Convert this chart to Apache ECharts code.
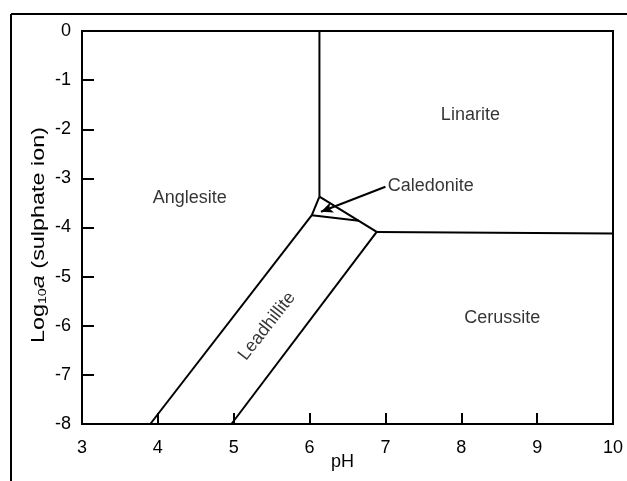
<!DOCTYPE html>
<html>
<head>
<meta charset="utf-8">
<script src="https://cdn.jsdelivr.net/npm/echarts@6/dist/echarts.min.js"></script>
<style>
  html, body { margin: 0; padding: 0; background: #fff; }
  #chart { width: 627px; height: 481px; }
</style>
</head>
<body>
<div id="chart"></div>
<script>
// Axis ranges and ticks (pH vs log10 activity of sulphate ion)
const pHTicks = [3, 4, 5, 6, 7, 8, 9, 10];
const logATicks = [0, -1, -2, -3, -4, -5, -6, -7, -8];

// Stability-field boundaries, each as [pH, log10 a] points
const anglesiteLinarite   = [[6.13, 0], [6.13, -3.37]];
const caledoniteLeft      = [[6.13, -3.37], [6.03, -3.75]];
const caledoniteBase      = [[6.03, -3.75], [6.65, -3.862]];
const linariteLower       = [[6.13, -3.37], [6.885, -4.09]];
const linariteCerussite   = [[6.885, -4.09], [10, -4.12]];
const anglesiteLeadhill   = [[6.03, -3.75], [3.90, -8]];
const leadhillCerussite   = [[6.885, -4.09], [4.97, -8]];

// Leader arrow from the Caledonite label into its small field
const caledoniteArrow = [[7.0, -3.17], [6.15, -3.68]];

// Field names and where they sit
const fieldNames  = ['Linarite', 'Anglesite', 'Cerussite', 'Leadhillite'];
const fieldPoints = [[8.12, -1.72], [4.42, -3.40], [8.54, -5.84], [5.44, -6.01]];
const fieldAngles = [0, 0, 0, 52];
const calloutName  = 'Caledonite';
const calloutPoint = [7.03, -3.16];

const FONT = '"Liberation Sans", Arial, sans-serif';
const FS = 18;
const chart = echarts.init(document.getElementById('chart'), null, { renderer: 'canvas' });

function boundary(points) {
  return {
    type: 'line',
    data: points,
    symbol: 'none',
    silent: true,
    lineStyle: { color: '#000', width: 2 },
    z: 3
  };
}

const boundaries = [anglesiteLinarite, caledoniteLeft, caledoniteBase, linariteLower,
  linariteCerussite, anglesiteLeadhill, leadhillCerussite].map(boundary);

const labelSeries = {
  type: 'scatter',
  symbolSize: 0,
  silent: true,
  data: fieldNames.map((n, i) => ({
    name: n,
    value: fieldPoints[i],
    label: {
      show: true,
      position: 'inside',
      formatter: '{b}',
      rotate: fieldAngles[i],
      color: '#000',
      fontSize: FS,
      fontFamily: FONT
    }
  })).concat([{
    name: calloutName,
    value: calloutPoint,
    label: {
      show: true,
      position: 'right',
      distance: 0,
      formatter: '{b}',
      color: '#000',
      fontSize: FS,
      fontFamily: FONT
    }
  }]),
  z: 5
};

const arrowSeries = {
  type: 'line',
  data: [],
  silent: true,
  markLine: {
    silent: true,
    symbol: ['none', 'arrow'],
    symbolSize: [8, 12],
    lineStyle: { color: '#000', width: 2, type: 'solid' },
    label: { show: false },
    data: [[{ coord: caledoniteArrow[0] }, { coord: caledoniteArrow[1] }]]
  }
};

chart.setOption({
  animation: false,
  backgroundColor: '#fff',
  grid: {
    left: 82, right: 14, top: 31, bottom: 57,
    containLabel: false,
    outerBoundsMode: 'none',
    show: true, borderColor: '#000', borderWidth: 2, backgroundColor: 'transparent'
  },
  xAxis: {
    type: 'value',
    min: pHTicks[0], max: pHTicks[pHTicks.length - 1], interval: 1,
    name: 'pH',
    nameLocation: 'middle',
    nameGap: 29,
    nameMoveOverlap: false,
    nameTextStyle: { color: '#000', fontSize: FS, fontFamily: FONT, padding: [0, 10, 0, 0] },
    axisLine: { onZero: false, lineStyle: { color: '#000', width: 2 } },
    axisTick: { inside: true, length: 11, lineStyle: { color: '#000', width: 2 } },
    axisLabel: { color: '#000', fontSize: FS, fontFamily: FONT, margin: 15 },
    splitLine: { show: false }
  },
  yAxis: {
    type: 'value',
    min: logATicks[logATicks.length - 1], max: logATicks[0], interval: 1,
    axisLine: { onZero: false, lineStyle: { color: '#000', width: 2 } },
    axisTick: { inside: true, length: 12, lineStyle: { color: '#000', width: 2 } },
    axisLabel: { color: '#000', fontSize: FS, fontFamily: FONT, margin: 11 },
    splitLine: { show: false }
  },
  graphic: [
    { type: 'line', shape: { x1: 11, y1: 14, x2: 627, y2: 14 }, style: { stroke: '#000', lineWidth: 2 }, silent: true },
    { type: 'line', shape: { x1: 11, y1: 14, x2: 11, y2: 481 }, style: { stroke: '#000', lineWidth: 2 }, silent: true },
    // y-axis title, set in a stretched face along its reading direction
    {
      type: 'text',
      x: 39, y: 235,
      rotation: Math.PI / 2,
      scaleX: 1.3,
      silent: true,
      style: {
        text: 'Log{sub|10}{it|a} (sulphate ion)',
        fill: '#000',
        fontSize: FS,
        fontFamily: FONT,
        align: 'center',
        verticalAlign: 'middle',
        rich: {
          sub: { fontSize: 11, fontFamily: FONT, fill: '#000', verticalAlign: 'bottom', lineHeight: 14 },
          it: { fontSize: FS, fontFamily: FONT, fontStyle: 'italic', fill: '#000' }
        }
      }
    }
  ],
  series: boundaries.concat([labelSeries, arrowSeries])
});
</script>
</body>
</html>
